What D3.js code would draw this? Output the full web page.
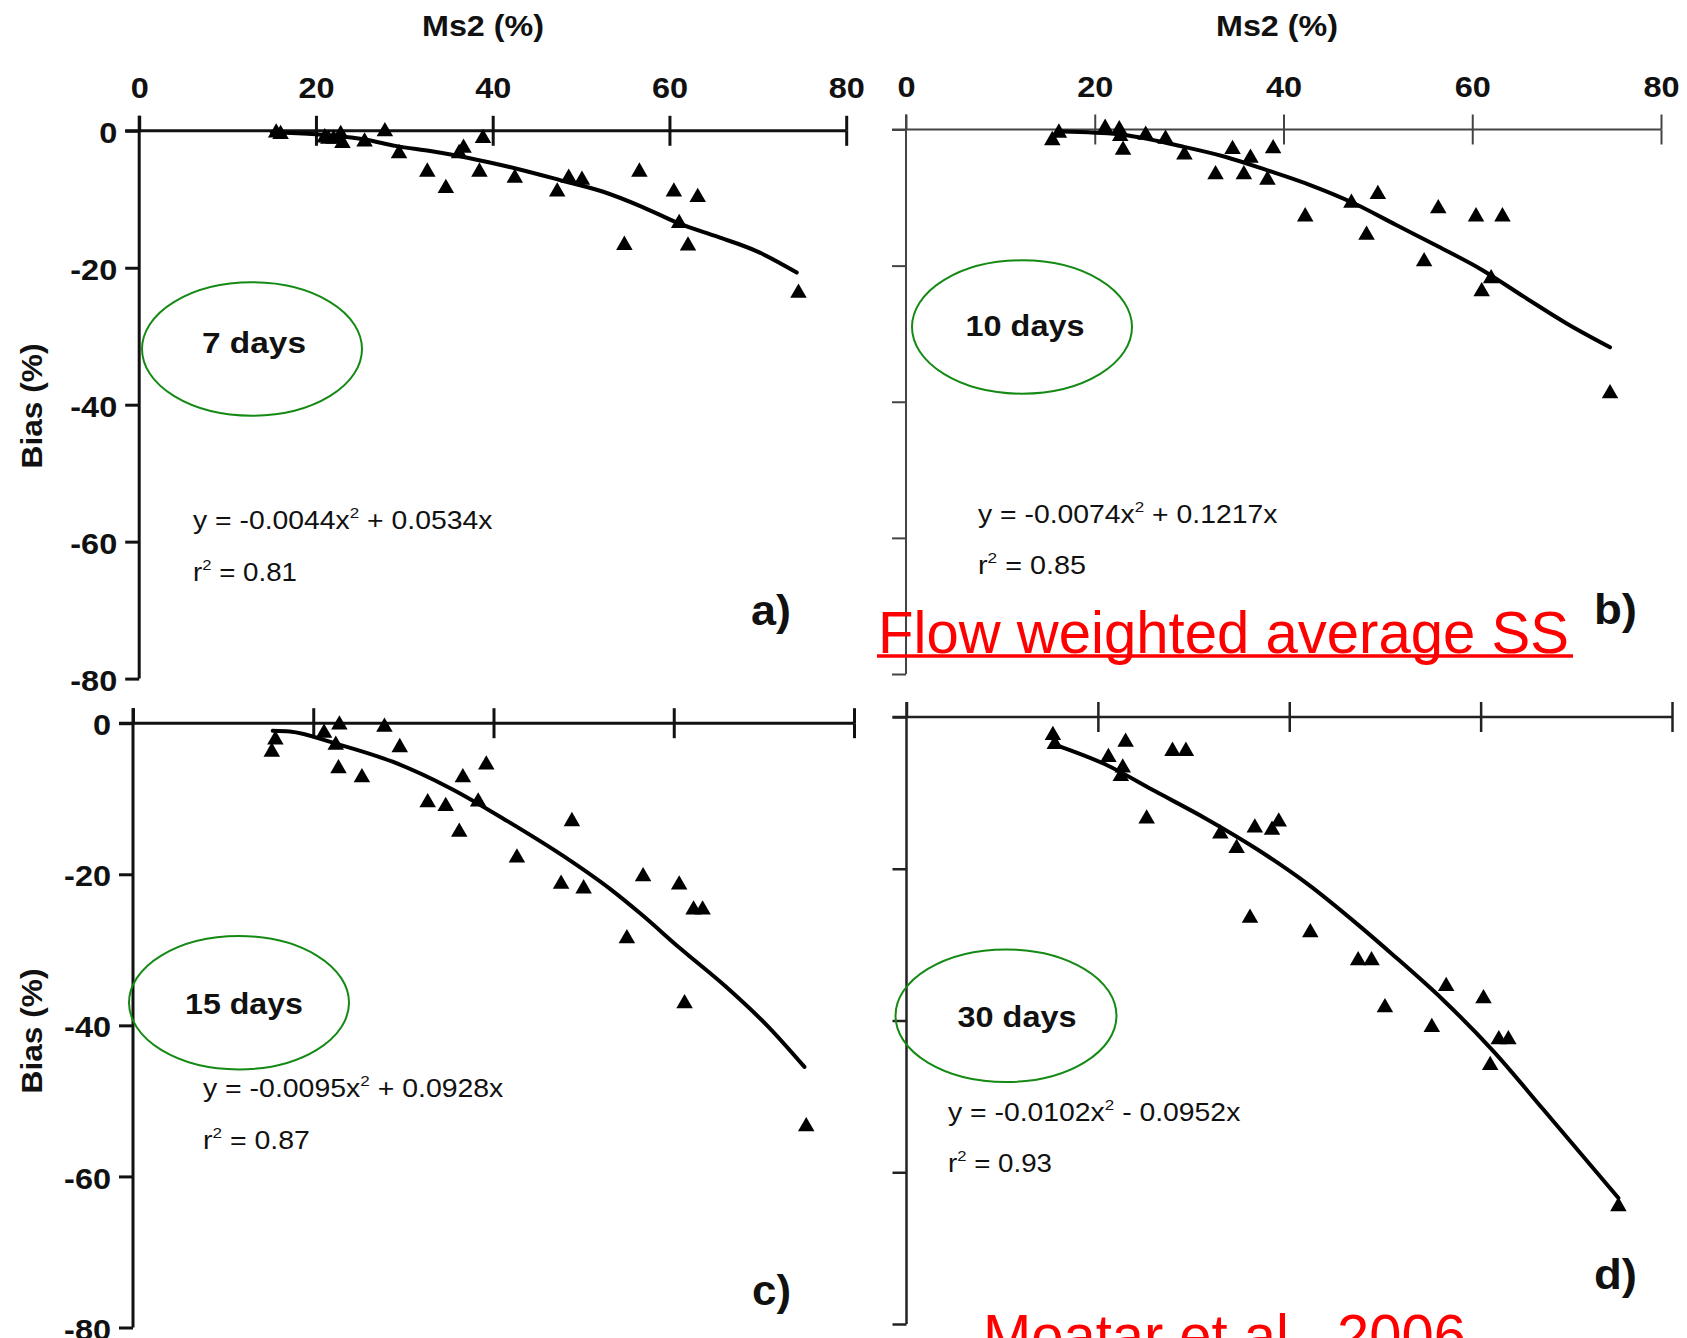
<!DOCTYPE html>
<html>
<head>
<meta charset="utf-8">
<script src="https://cdn.jsdelivr.net/npm/d3@7"></script>
<style>
body { margin: 0; background: #fff; }
svg { display: block; font-family: "Liberation Sans", Arial, Helvetica, sans-serif; }
</style>
</head>
<body>
<svg id="chart" width="1687" height="1338"></svg>
<script>
//data & constants (Ms2 % on x, bias % on y)
var xTicks = [0, 20, 40, 60, 80];
var yTicks = [0, -20, -40, -60, -80];

// a) 7 days
var ms2A  = [15.5, 16, 21, 21.4, 22, 22.8, 23, 25.5, 27.8, 29.4, 32.6, 34.7, 36.2, 36.7, 38.5, 38.9, 42.5, 47.3, 48.6, 50.1, 54.9, 56.6, 60.5, 61.1, 62.1, 63.2, 74.6];
var biasA = [-0.3, -0.5, -1.0, -1.2, -1.2, -0.5, -1.8, -1.6, -0.1, -3.3, -6.0, -8.4, -3.3, -2.5, -6.0, -1.1, -6.9, -8.9, -6.9, -7.2, -16.7, -6.0, -8.9, -13.5, -16.8, -9.7, -23.7];
var fitXA = [15, 20, 25.7, 29, 33.1, 37.4, 42.6, 48.2, 52.5, 56.9, 61.2, 65.5, 69.9, 74.4];
var fitYA = [-0.2, -0.5, -1.3, -2.2, -3.0, -4.0, -5.5, -7.4, -8.9, -11.1, -13.6, -15.5, -17.6, -20.7];

// b) 10 days
var ms2B  = [15.5, 16.2, 21.1, 22.6, 22.7, 23, 25.4, 27.5, 29.5, 32.8, 34.6, 35.8, 36.5, 38.3, 38.9, 42.3, 47.2, 48.8, 50.0, 54.9, 56.4, 60.4, 61.0, 62.0, 63.2, 74.6];
var biasB = [-1.6, -0.5, 0.2, 0, -1.0, -3.0, -0.8, -1.4, -3.7, -6.6, -2.9, -6.6, -4.2, -7.4, -2.8, -12.8, -10.8, -15.5, -9.5, -19.4, -11.6, -12.8, -23.8, -21.9, -12.8, -38.8];
var fitXB = [16.6, 22.5, 29.3, 33.8, 38.3, 42.9, 47.4, 51.9, 56.4, 61.0, 65.5, 70.0, 74.6];
var fitYB = [-0.3, -0.7, -2.5, -4.0, -6.0, -8.2, -10.8, -14.0, -17.2, -20.6, -24.6, -28.5, -32.0];

// c) 15 days
var ms2C  = [15.4, 15.8, 21.2, 22.9, 22.5, 22.8, 25.4, 27.9, 29.6, 32.7, 34.7, 36.2, 36.6, 38.3, 39.2, 42.6, 47.5, 48.7, 50.0, 54.8, 56.6, 60.6, 61.2, 62.2, 63.2, 74.7];
var biasC = [-3.8, -2.2, -1.3, -0.2, -2.9, -6.0, -7.2, -0.5, -3.2, -10.5, -11.0, -14.4, -7.2, -10.4, -5.5, -17.8, -21.3, -13.0, -21.9, -28.5, -20.3, -21.4, -37.1, -24.7, -24.7, -53.4];
var fitXC = [15.5, 17.4, 22.5, 28.8, 35.2, 41.6, 47.9, 53.0, 56.4, 60.7, 65.8, 70.5, 74.5];
var fitYC = [-1.0, -1.1, -2.7, -5.1, -8.6, -13.0, -17.7, -22.0, -25.3, -29.8, -34.9, -40.2, -45.5];

// d) 30 days
var ms2D  = [15.3, 15.5, 21.1, 22.9, 22.6, 22.4, 25.1, 27.8, 29.2, 32.8, 34.5, 35.9, 36.4, 38.2, 38.9, 42.2, 47.2, 48.6, 50.0, 54.9, 56.4, 60.3, 61.0, 61.9, 62.9, 74.4];
var biasD = [-2.4, -3.6, -5.3, -3.3, -6.7, -7.8, -13.4, -4.5, -4.5, -15.4, -17.3, -26.5, -14.6, -14.9, -13.8, -28.4, -32.1, -32.1, -38.3, -40.9, -35.5, -37.1, -45.9, -42.5, -42.5, -64.5];
var fitXD = [15.4, 20.7, 26.0, 31.3, 36.6, 41.9, 47.2, 50.7, 56.0, 61.3, 66.6, 74.4];
var fitYD = [-3.6, -6.2, -9.8, -13.4, -17.4, -22.0, -27.4, -31.2, -37.2, -44.0, -51.8, -63.4];

//panel layout
var panels = [
	{ms2: ms2A, bias: biasA, fitX: fitXA, fitY: fitYA,
	 left: 139.2, right: 846.2, top: 130.8, bottom: 678.6, lw: 3, lc: "#111",
	 xLabels: true, yLabels: true, title: [483, 36], biasPos: [42, 406],
	 ell: [252, 349, 110, 66.7], days: "7 days", daysPos: [254, 353, 104],
	 eq: ["y = -0.0044x", " + 0.0534x"], eqPos: [193, 529, 300],
	 r2: "0.81", r2Pos: [193, 581, 104], tag: "a)", tagPos: [751, 625, 40]},
	{ms2: ms2B, bias: biasB, fitX: fitXB, fitY: fitYB,
	 left: 906, right: 1661, top: 129.5, bottom: 674, lw: 2, lc: "#444",
	 xLabels: true, yLabels: false, title: [1277, 36], biasPos: null,
	 ell: [1022, 327, 110, 66.7], days: "10 days", daysPos: [1025, 336, 119],
	 eq: ["y = -0.0074x", " + 0.1217x"], eqPos: [978, 523, 300],
	 r2: "0.85", r2Pos: [978, 574, 108], tag: "b)", tagPos: [1594, 624, 43]},
	{ms2: ms2C, bias: biasC, fitX: fitXC, fitY: fitYC,
	 left: 133, right: 854, top: 723.2, bottom: 1327.5, lw: 3, lc: "#111",
	 xLabels: false, yLabels: true, title: null, biasPos: [42, 1031],
	 ell: [239, 1002.7, 110, 66.7], days: "15 days", daysPos: [244, 1014, 118],
	 eq: ["y = -0.0095x", " + 0.0928x"], eqPos: [203, 1097, 301],
	 r2: "0.87", r2Pos: [203, 1149, 107], tag: "c)", tagPos: [752, 1305, 39]},
	{ms2: ms2D, bias: biasD, fitX: fitXD, fitY: fitYD,
	 left: 906.5, right: 1672, top: 717, bottom: 1324, lw: 2.5, lc: "#222",
	 xLabels: false, yLabels: false, title: null, biasPos: null,
	 ell: [1006, 1015.7, 110.5, 66.3], days: "30 days", daysPos: [1017, 1027, 119],
	 eq: ["y = -0.0102x", " - 0.0952x"], eqPos: [948, 1121, 293],
	 r2: "0.93", r2Pos: [948, 1172, 104], tag: "d)", tagPos: [1594, 1289, 43]}
];

var svg = d3.select("#chart");
svg.append("rect").attr("width", 1687).attr("height", 1338).attr("fill", "#fff");

//put a text at (x,y) and stretch it sideways to a given width
function placeText(sel, x, y, width, rot) {
	var w = sel.node().getBBox().width;
	var k = width ? width / w : 1;
	sel.attr("transform", `translate(${x},${y})` + (rot ? ` rotate(${rot})` : "") + ` scale(${k},1)`);
	return sel;
}

//stretch axis labels without moving their anchor
function widen(sel, k) {
	sel.attr("transform", function() {
		var x = +this.getAttribute("x") || 0;
		return `translate(${x * (1 - k)},0) scale(${k},1)`;
	});
}

panels.forEach(function(p) {
	var x = d3.scaleLinear().domain([0, 80]).range([p.left, p.right]);
	var y = d3.scaleLinear().domain([0, -80]).range([p.top, p.bottom]);
	var g = svg.append("g");

	//axis lines
	g.append("line")
		.attr("x1", x(0) - 14).attr("x2", x(80))
		.attr("y1", y(0)).attr("y2", y(0))
		.attr("stroke", p.lc).attr("stroke-width", p.lw);
	g.append("line")
		.attr("x1", x(0)).attr("x2", x(0))
		.attr("y1", y(0) - 15).attr("y2", y(-80))
		.attr("stroke", p.lc).attr("stroke-width", p.lw);

	//x ticks cross the axis
	var top = g.append("g")
		.attr("transform", `translate(0,${y(0)})`)
		.call(d3.axisTop(x).tickValues(xTicks).tickSizeInner(15).tickSizeOuter(0).tickPadding(18)
			.tickFormat(p.xLabels ? d3.format("d") : ""));
	var bot = g.append("g")
		.attr("transform", `translate(0,${y(0)})`)
		.call(d3.axisBottom(x).tickValues(xTicks.slice(1)).tickSizeInner(15).tickSizeOuter(0).tickFormat(""));
	var left = g.append("g")
		.attr("transform", `translate(${x(0)},0)`)
		.call(d3.axisLeft(y).tickValues(yTicks).tickSizeInner(14).tickSizeOuter(0).tickPadding(8)
			.tickFormat(p.yLabels ? function(d) { return String(d); } : ""));

	[top, bot, left].forEach(function(a) {
		a.select(".domain").remove();
		a.attr("font-family", null).attr("font-size", null);
		a.selectAll(".tick line").attr("stroke", p.lc).attr("stroke-width", p.lw);
		a.selectAll(".tick text")
			.attr("font-size", 29).attr("font-weight", "bold").attr("fill", "#111");
	});
	left.selectAll(".tick text").attr("dy", "0.4em");
	widen(top.selectAll(".tick text"), 1.12);
	widen(left.selectAll(".tick text"), 1.12);

	//fitted curve
	var line = d3.line()
		.curve(d3.curveMonotoneX)
		.x(function(d) { return x(d[0]); })
		.y(function(d) { return y(d[1]); });
	g.append("path")
		.datum(d3.zip(p.fitX, p.fitY))
		.attr("d", line)
		.attr("fill", "none")
		.attr("stroke", "#000")
		.attr("stroke-width", 4)
		.attr("stroke-linejoin", "round")
		.attr("stroke-linecap", "round");

	//triangles
	var tri = d3.symbol().type(d3.symbolTriangle).size(118);
	g.selectAll("path.pt")
		.data(d3.zip(p.ms2, p.bias))
		.enter()
		.append("path")
		.attr("class", "pt")
		.attr("d", tri)
		.attr("transform", function(d) { return `translate(${x(d[0])},${y(d[1])})`; })
		.attr("fill", "#000");

	//axis titles
	if (p.title) {
		placeText(g.append("text").text("Ms2 (%)")
			.attr("font-size", 30).attr("font-weight", "bold").attr("fill", "#111")
			.attr("text-anchor", "middle"), p.title[0], p.title[1], 122);
	}
	if (p.biasPos) {
		placeText(g.append("text").text("Bias (%)")
			.attr("font-size", 30).attr("font-weight", "bold").attr("fill", "#111")
			.attr("text-anchor", "middle"), p.biasPos[0], p.biasPos[1], 125, -90);
	}

	//green ellipse + label
	g.append("ellipse")
		.attr("cx", p.ell[0]).attr("cy", p.ell[1])
		.attr("rx", p.ell[2]).attr("ry", p.ell[3])
		.attr("fill", "none").attr("stroke", "#148a14").attr("stroke-width", 2);
	placeText(g.append("text").text(p.days)
		.attr("font-size", 30).attr("font-weight", "bold").attr("fill", "#111")
		.attr("text-anchor", "middle"), p.daysPos[0], p.daysPos[1], p.daysPos[2]);

	//regression equation
	var eq = g.append("text").attr("font-size", 25).attr("fill", "#111");
	eq.append("tspan").text(p.eq[0]);
	eq.append("tspan").text("2").attr("font-size", 15).attr("dy", -11);
	eq.append("tspan").text(p.eq[1]).attr("dy", 11);
	placeText(eq, p.eqPos[0], p.eqPos[1], p.eqPos[2]);

	var r2 = g.append("text").attr("font-size", 25).attr("fill", "#111");
	r2.append("tspan").text("r");
	r2.append("tspan").text("2").attr("font-size", 15).attr("dy", -11);
	r2.append("tspan").text(" = " + p.r2).attr("dy", 11);
	placeText(r2, p.r2Pos[0], p.r2Pos[1], p.r2Pos[2]);

	//panel letter
	placeText(g.append("text").text(p.tag)
		.attr("font-size", 42).attr("font-weight", "bold").attr("fill", "#111"),
		p.tagPos[0], p.tagPos[1], p.tagPos[2]);
});

//red notes on top
placeText(svg.append("text").text("Flow weighted average SS")
	.attr("font-size", 60).attr("fill", "#ff0000"), 878, 653, 691);
svg.append("line")
	.attr("x1", 877).attr("x2", 1573).attr("y1", 656).attr("y2", 656)
	.attr("stroke", "#ff0000").attr("stroke-width", 3.5);
placeText(svg.append("text").text("Moatar et al., 2006")
	.attr("font-size", 60).attr("fill", "#ff0000"), 983, 1356, 483);
</script>
</body>
</html>
